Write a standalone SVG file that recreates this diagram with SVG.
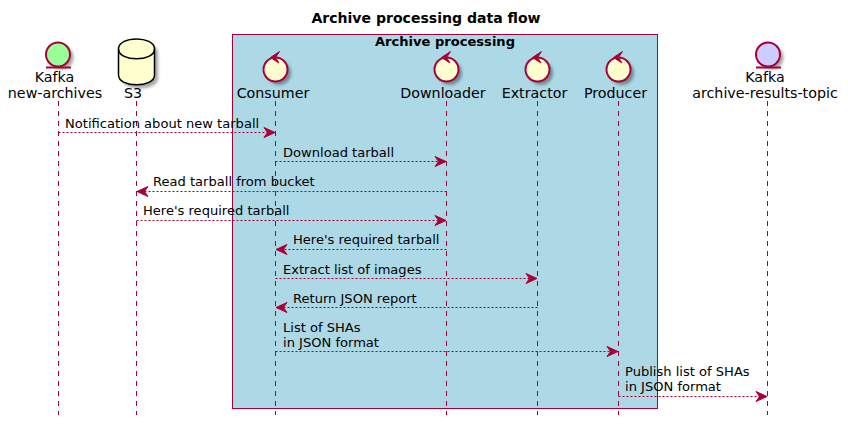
<svg xmlns="http://www.w3.org/2000/svg" width="848" height="425" viewBox="0 0 848 425">
<style>
text{font-family:"DejaVu Sans",sans-serif;font-size:13.07px;fill:#000}
.t{font-weight:bold}
.p{font-size:14.25px;text-anchor:middle}
.l{stroke:#A80036;stroke-width:1;stroke-dasharray:5,5;fill:none}
.c{stroke:#A80036;stroke-width:1;stroke-dasharray:2,2;fill:none}
.a{fill:#A80036;stroke:#A80036;stroke-width:1}
.s{fill:#000;opacity:.35}
.n{stroke:#A80036;stroke-width:2;fill:#FEFECE}
</style>
<defs>
<filter id="b" x="-30%" y="-30%" width="160%" height="160%"><feGaussianBlur stdDeviation="1.6"/></filter>
<g id="ctl"><circle cx="3.500" cy="3.500" r="12" class="s" filter="url(#b)"/><circle r="12" class="n"/><path d="M4-18-5-12 3.500-6.500 0-12Z" fill="#A80036" stroke="#A80036" stroke-width="1"/></g>
<marker id="h" markerUnits="userSpaceOnUse" markerWidth="14" markerHeight="12" refX="12" refY="5" orient="auto-start-reverse" overflow="visible"><path class="a" d="M1,0 L12,5 L1,10 L4.500,5 Z"/></marker>
</defs>
<rect width="848" height="425" fill="#fff"/>
<text class="t" x="426" y="23" text-anchor="middle" style="font-size:14.06px">Archive processing data flow</text>
<g id="box"><rect x="232.500" y="34.500" width="425" height="374" fill="#ADD8E6" stroke="#A80036"/><text class="t" x="445" y="46" text-anchor="middle">Archive processing</text></g>
<g id="lifelines">
<path class="l" d="M58.500 101V415M136.500 101V415M275.500 101V415M446.500 101V415M537.500 101V415M618.500 101V415M767.500 101V415"/>
</g>
<g id="kafka-new"><circle cx="61.500" cy="57.500" r="12" class="s" filter="url(#b)"/><circle cx="58" cy="54.500" r="12" stroke="#A80036" stroke-width="2" fill="#99FF99"/><path d="M46 67.500H71" stroke="#A80036" stroke-width="2"/><text class="p" x="54.500" y="82">Kafka</text><text class="p" x="55" y="98">new-archives</text></g>
<g id="s3"><path class="s" filter="url(#b)" d="M118.500 49C118.500 35.500 154.500 35.500 154.500 49V75C154.500 88 118.500 88 118.500 75Z" transform="translate(3.500,3.500)"/><path d="M118.500 49C118.500 35.500 154.500 35.500 154.500 49V75C154.500 88 118.500 88 118.500 75Z" fill="#FEFECE" stroke="#000" stroke-width="1.500"/><path d="M118.500 49C118.500 62 154.500 62 154.500 49" fill="none" stroke="#000" stroke-width="1.500"/><text class="p" x="133" y="98">S3</text></g>
<g id="consumer"><use href="#ctl" x="275.500" y="69.500"/><text class="p" x="273" y="98">Consumer</text></g>
<g id="downloader"><use href="#ctl" x="446.500" y="69.500"/><text class="p" x="443" y="98">Downloader</text></g>
<g id="extractor"><use href="#ctl" x="537.500" y="69.500"/><text class="p" x="534.500" y="98">Extractor</text></g>
<g id="producer"><use href="#ctl" x="618.500" y="69.500"/><text class="p" x="615.500" y="98">Producer</text></g>
<g id="kafka-results"><circle cx="771.500" cy="57.500" r="12" class="s" filter="url(#b)"/><circle cx="768" cy="54.500" r="12" stroke="#A80036" stroke-width="2" fill="#CCCCFF"/><path d="M756 67.500H781" stroke="#A80036" stroke-width="2"/><text class="p" x="765" y="82">Kafka</text><text class="p" x="765" y="98">archive-results-topic</text></g>
<g id="connectors">
<path class="c" marker-end="url(#h)" d="M58.500 132.500H275"/>
<path class="c" marker-end="url(#h)" d="M275.500 161.500H446"/>
<path class="c" marker-end="url(#h)" d="M446.500 191.500H137"/>
<path class="c" marker-end="url(#h)" d="M136.500 220.500H446"/>
<path class="c" marker-end="url(#h)" d="M446.500 249.500H276"/>
<path class="c" marker-end="url(#h)" d="M275.500 278.500H537"/>
<path class="c" marker-end="url(#h)" d="M537.500 307.500H276"/>
<path class="c" marker-end="url(#h)" d="M275.500 351.500H618"/>
<path class="c" marker-end="url(#h)" d="M618.500 396.500H767"/>
</g>
<g id="labels">
<text x="65" y="128">Notification about new tarball</text>
<text x="283" y="157">Download tarball</text>
<text x="153" y="186">Read tarball from bucket</text>
<text x="143" y="215">Here's required tarball</text>
<text x="293" y="244">Here's required tarball</text>
<text x="283" y="274">Extract list of images</text>
<text x="293" y="303">Return JSON report</text>
<text x="283" y="332">List of SHAs</text>
<text x="283" y="347">in JSON format</text>
<text x="625" y="376">Publish list of SHAs</text>
<text x="625" y="391">in JSON format</text>
</g>
</svg>
